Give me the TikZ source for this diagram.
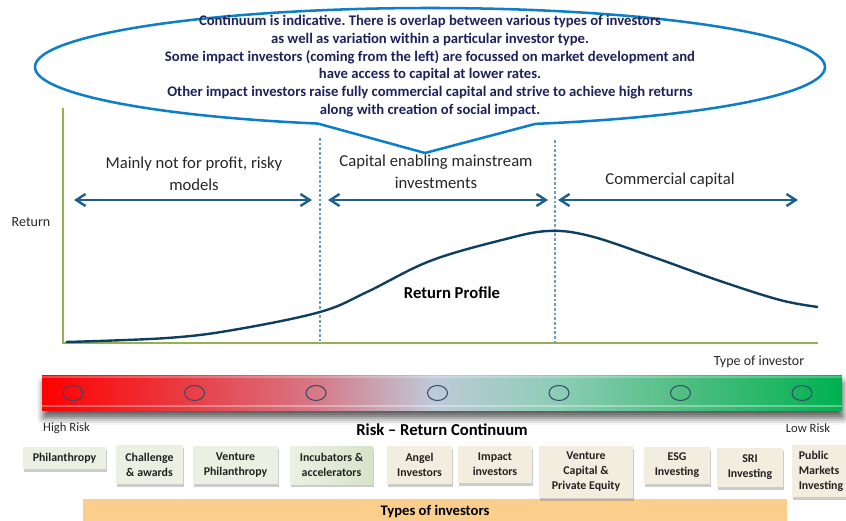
\documentclass[tikz,border=0pt]{standalone}
\usepackage{fontspec}
\setmainfont{Carlito}
\frenchspacing
\usetikzlibrary{arrows.meta, positioning, shapes.geometric, shapes.callouts, shadows, shadows.blur}

\definecolor{noteblue}{RGB}{14,126,200}
\definecolor{notenavy}{RGB}{30,34,90}
\definecolor{axisgreen}{RGB}{150,175,85}
\definecolor{splitblue}{RGB}{110,158,185}
\definecolor{spanblue}{RGB}{28,95,138}
\definecolor{curveblue}{RGB}{14,62,96}
\definecolor{labelgray}{RGB}{38,38,38}
\definecolor{ringblue}{RGB}{55,70,105}
\definecolor{boxsage}{RGB}{236,240,226}
\definecolor{boxtan}{RGB}{243,237,223}
\definecolor{incmid}{RGB}{192,206,226}
\definecolor{incright}{RGB}{214,228,202}
\definecolor{typesorange}{RGB}{251,206,140}
\definecolor{riskred}{RGB}{255,0,0}
\definecolor{riskrose}{RGB}{232,64,72}
\definecolor{riskpink}{RGB}{214,122,136}
\definecolor{riskmist}{RGB}{190,202,216}
\definecolor{riskmint}{RGB}{140,205,182}
\definecolor{riskleaf}{RGB}{80,190,130}
\definecolor{riskgreen}{RGB}{0,176,80}

\pgfdeclarehorizontalshading{riskbar}{100bp}{color(0bp)=(riskred); color(25bp)=(riskred);
  color(34.5bp)=(riskrose); color(42.25bp)=(riskpink); color(49.5bp)=(riskmist);
  color(57.25bp)=(riskmint); color(65bp)=(riskleaf); color(75bp)=(riskgreen); color(100bp)=(riskgreen)}

\begin{document}
\begin{tikzpicture}[x=0.75pt, y=-0.75pt,
	every node/.style={align=center, text=labelgray},
	axis/.style={line width=1.8pt, color=axisgreen},
	split/.style={line width=0.8pt, color=splitblue, dash pattern=on 2pt off 1.5pt},
	span/.style={{Straight Barb[length=7pt, width=9pt]}-{Straight Barb[length=7pt, width=9pt]}, line width=1.8pt, color=spanblue},
	profile/.style={line width=1.8pt, color=curveblue},
	notebubble/.style={
		ellipse callout,
		draw=noteblue,
		line width=1.9pt,
		fill=white,
		inner sep=0pt,
		minimum width=592.5pt,
		minimum height=88.5pt,
		callout pointer arc=32
	},
	ring/.style={ellipse, draw=ringblue, line width=0.75pt, inner sep=0pt, minimum width=15pt, minimum height=11.25pt},
	inv/.style={
		fill=boxtan,
		inner sep=1pt,
		font=\bfseries\fontsize{8.9}{11.25}\selectfont,
		text=labelgray!90!black,
		drop shadow={shadow xshift=1pt, shadow yshift=-2.5pt, opacity=0.4}
	},
	invsage/.style={inv, fill=boxsage}
	]
	\useasboundingbox (0,0) rectangle (846,521);

	% axes and regions
	\coordinate (origin) at (63,343);
	\coordinate (ytop) at (63,108);
	\coordinate (xend) at (818,343);
	\draw[axis] (ytop) |- (xend);

	\coordinate (s1) at (320,138);
	\coordinate (s2) at (555,140);
	\draw[split] (s1) -- (s1 |- origin);
	\draw[split] (s2) -- (s2 |- origin);

	\coordinate (a1) at (74,200);  \coordinate (b1) at (312,200);
	\coordinate (a2) at (328,200); \coordinate (b2) at (548,200);
	\coordinate (a3) at (558,200); \coordinate (b3) at (798,200);
	\draw[span] (a1) -- (b1);
	\draw[span] (a2) -- (b2);
	\draw[span] (a3) -- (b3);

	\node[font=\fontsize{12.5}{16.5}\selectfont] (nonprofit) at (194,174) {Mainly not for profit, risky\\models};
	\node[font=\fontsize{12.5}{16.5}\selectfont] (enabling) at (436,172) {Capital enabling mainstream\\investments};
	\node[font=\fontsize{12.5}{16.5}\selectfont] (commercial) at (670,180) {Commercial capital};

	\node[font=\fontsize{10.5}{12}\selectfont] (ret) at (31,222) {Return};
	\node[font=\fontsize{10.5}{12}\selectfont] (type) at (759,362) {Type of investor};

	% return profile
	\draw[profile] plot[smooth, tension=0.6] coordinates {(66,342) (167,338) (233,330) (320,312) (367,292) (430,261) (502,240) (548,231) (590,236) (653,257) (720,281) (780,300) (818,307)};
	\node[font=\bfseries\fontsize{12.5}{14}\selectfont, text=black] (profile) at (452,293) {Return Profile};

	% note
	\node[notebubble, callout absolute pointer={(425,153)}] (note) at (430,67) {};
	\node[font=\bfseries\fontsize{11}{13.35}\selectfont, text=notenavy] (notetext) at (430,66)
	{Continuum is indicative. There is overlap between various types of investors\\
	 as well as variation within a particular investor type.\\
	 Some impact investors (coming from the left) are focussed on market development and\\
	 have access to capital at lower rates.\\
	 Other impact investors raise fully commercial capital and strive to achieve high returns\\
	 along with creation of social impact.};

	% risk bar
	\node[shading=riskbar, minimum width=600pt, minimum height=26.25pt, inner sep=0pt,
		blur shadow={shadow xshift=1pt, shadow yshift=-6pt, shadow blur radius=5pt, shadow opacity=65}] (bar) at (442,392.5) {};
	\fill[white, opacity=0.35] ([yshift=2.5pt]bar.south west) rectangle ([yshift=4pt]bar.south east);
	\fill[white, opacity=0.25] ([yshift=-1pt]bar.north west) rectangle ([yshift=-2.2pt]bar.north east);
	\foreach \i in {0,...,6}
		\node[ring] (ring\i) at (73+121.5*\i,393) {};

	\node[font=\fontsize{9.5}{11}\selectfont] (high) at (66.5,428) {High Risk};
	\node[font=\fontsize{9.5}{11}\selectfont] (low) at (808,428) {Low Risk};
	\node[font=\bfseries\fontsize{12.5}{14}\selectfont, text=black] (continuum) at (442,430) {Risk -- Return Continuum};

	% investor types
	\node[fill=typesorange, minimum width=528pt, minimum height=19.5pt, inner sep=0pt,
		font=\bfseries\fontsize{11}{13}\selectfont, text=black] (types) at (435,512) {Types of investors};

	\node[invsage, minimum width=62.25pt, minimum height=16.5pt] (phil) at (64.5,458) {Philanthropy};
	\node[invsage, minimum width=50.25pt, minimum height=29.25pt] (chal) at (149.5,464.5) {Challenge\\\& awards};
	\node[invsage, minimum width=63.75pt, minimum height=28.5pt] (vphil) at (235.5,465) {Venture\\Philanthropy};
	\node[inv, left color=boxsage, middle color=incmid, right color=incright,
		minimum width=62.25pt, minimum height=28.5pt] (incub) at (331.5,465) {Incubators \&\\accelerators};
	\node[inv, minimum width=48.75pt, minimum height=28.5pt] (angel) at (419.5,465) {Angel\\Investors};
	\node[inv, minimum width=55.5pt, minimum height=27.75pt] (impact) at (495,464.5) {Impact\\investors};
	\node[inv, minimum width=70.5pt, minimum height=39pt] (vc) at (586,472) {Venture\\Capital \&\\Private Equity};
	\node[inv, minimum width=49.5pt, minimum height=27.75pt] (esg) at (677,465.5) {ESG\\Investing};
	\node[inv, minimum width=49.5pt, minimum height=29.25pt] (sri) at (750,467.5) {SRI\\Investing};
	\node[inv, align=left, minimum width=43.5pt, minimum height=39pt] (pub) at (821,471) {Public\\Markets\\Investing};
\end{tikzpicture}
\end{document}
